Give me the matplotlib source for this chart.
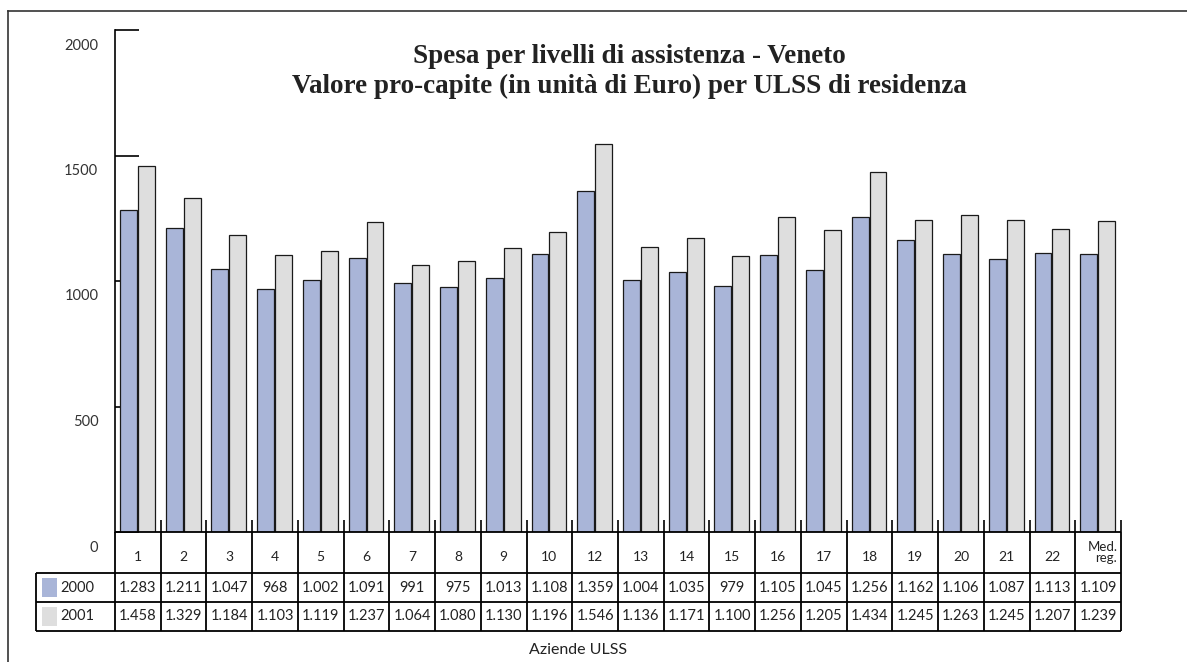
import numpy as np
import matplotlib
matplotlib.use("Agg")
import matplotlib.pyplot as plt
from matplotlib.lines import Line2D
from matplotlib.patches import Rectangle
from matplotlib.transforms import ScaledTranslation

# dati (valori pro-capite in Euro)
ulss = ["1", "2", "3", "4", "5", "6", "7", "8", "9", "10", "12", "13", "14",
        "15", "16", "17", "18", "19", "20", "21", "22", "Med.\nreg."]
spesa_2000 = [1283, 1211, 1047, 968, 1002, 1091, 991, 975, 1013, 1108, 1359,
              1004, 1035, 979, 1105, 1045, 1256, 1162, 1106, 1087, 1113, 1109]
spesa_2001 = [1458, 1329, 1184, 1103, 1119, 1237, 1064, 1080, 1130, 1196, 1546,
              1136, 1171, 1100, 1256, 1205, 1434, 1245, 1263, 1245, 1207, 1239]
anni = ["2000", "2001"]
y_ticks = [0, 500, 1000, 1500, 2000]

BLUE = "#a9b5d8"
GREY = "#dedede"
SANS = "Lato"

W, H = 1187, 662


def fx(px):
    return px / W


def fy(py):
    return 1 - py / H


def fmt(v):
    return "{:,}".format(v).replace(",", ".")


fig = plt.figure(figsize=(W / 100, H / 100), dpi=100)

# cornice esterna (solo lati sinistro e superiore visibili)
fig.add_artist(Line2D([fx(8), 1], [fy(11), fy(11)], transform=fig.transFigure,
                      color="#333333", lw=1.2))
fig.add_artist(Line2D([fx(8), fx(8)], [0, fy(11)], transform=fig.transFigure,
                      color="#333333", lw=1.2))

ax = fig.add_axes([fx(115), fy(532), fx(1121) - fx(115), fy(30) - fy(532)])
n = len(ulss)
x = np.arange(n)
ax.bar(x + 0.11, spesa_2000, width=0.37, align="edge", color=BLUE,
       edgecolor="#1a1a1a", linewidth=0.9, zorder=3)
ax.bar(x + 0.50, spesa_2001, width=0.37, align="edge", color=GREY,
       edgecolor="#1a1a1a", linewidth=0.9, zorder=3)
ax.set_xlim(0, n)
ax.set_ylim(0, 2000)
ax.set_xticks([])
ax.set_yticks(y_ticks)
ax.set_yticklabels([str(t) for t in y_ticks], fontfamily=SANS, fontsize=10.5,
                   color="#333333")
ax.tick_params(axis="y", direction="in", length=17.3, width=1.2, pad=12)
off = ScaledTranslation(0, -0.14, fig.dpi_scale_trans)
for lbl in ax.get_yticklabels():
    lbl.set_transform(lbl.get_transform() + off)
for s in ["top", "right", "bottom"]:
    ax.spines[s].set_visible(False)
ax.spines["left"].set_linewidth(1.2)
ax.patch.set_visible(False)
# piccoli separatori sopra la tabella
ax.vlines(np.arange(1, n + 1), 0, 48, color="black", lw=1.2, clip_on=False)

# tabella dati sotto il grafico
tab = fig.add_axes([fx(36), fy(631), fx(1121) - fx(36), fy(532) - fy(631)])
tab.axis("off")
pxu = (1121 - 115) / n
lab_w = (115 - 36) / pxu
tab.set_xlim(-lab_w, n)
tab.set_ylim(0, 1)
y_head = (631 - 573) / 99
y_mid = (631 - 602) / 99
kw = dict(color="black", lw=1.3, clip_on=False)
tab.hlines(1, 0, n, **kw)
tab.hlines([y_head, y_mid, 0], -lab_w, n, **kw)
tab.vlines(np.arange(0, n + 1), 0, 1, **kw)
tab.vlines(-lab_w, 0, y_head, **kw)

for i, lab in enumerate(ulss):
    if "\n" in lab:
        tab.text(i + 0.92, (1 + y_head) / 2, lab, ha="right", va="center",
                 fontfamily=SANS, fontsize=9.5, color="#222222", linespacing=0.85)
    else:
        tab.text(i + 0.5, (1 + y_head) / 2 - 0.05, lab, ha="center", va="center",
                 fontfamily=SANS, fontsize=10, color="#222222")

rows = [(spesa_2000, BLUE, (y_head + y_mid) / 2, y_mid),
        (spesa_2001, GREY, y_mid / 2, 0)]
for (vals, col, yc, y0), anno in zip(rows, anni):
    tab.add_patch(Rectangle((-lab_w + 6 / pxu, y0 + 5 / 99), 15 / pxu, 19 / 99,
                            facecolor=col, edgecolor="none", clip_on=False))
    tab.text(-lab_w + 24 / pxu, yc, anno, ha="left", va="center",
             fontfamily=SANS, fontsize=10.5, color="#222222")
    for i, v in enumerate(vals):
        tab.text(i + 0.5, yc, fmt(v), ha="center", va="center",
                 fontfamily=SANS, fontsize=10.5, color="#222222")

fig.text(fx(578), fy(650), "Aziende ULSS", ha="center", va="center",
         fontfamily=SANS, fontsize=11.5, color="#222222")

fig.text(fx(629), fy(63), "Spesa per livelli di assistenza - Veneto",
         ha="center", va="baseline", fontfamily="Liberation Serif",
         fontweight="bold", fontsize=19.5, color="#222222")
fig.text(fx(629), fy(93),
         "Valore pro-capite (in unità di Euro) per ULSS di residenza",
         ha="center", va="baseline", fontfamily="Liberation Serif",
         fontweight="bold", fontsize=19.5, color="#222222")

fig.savefig("out.png", dpi=100)
